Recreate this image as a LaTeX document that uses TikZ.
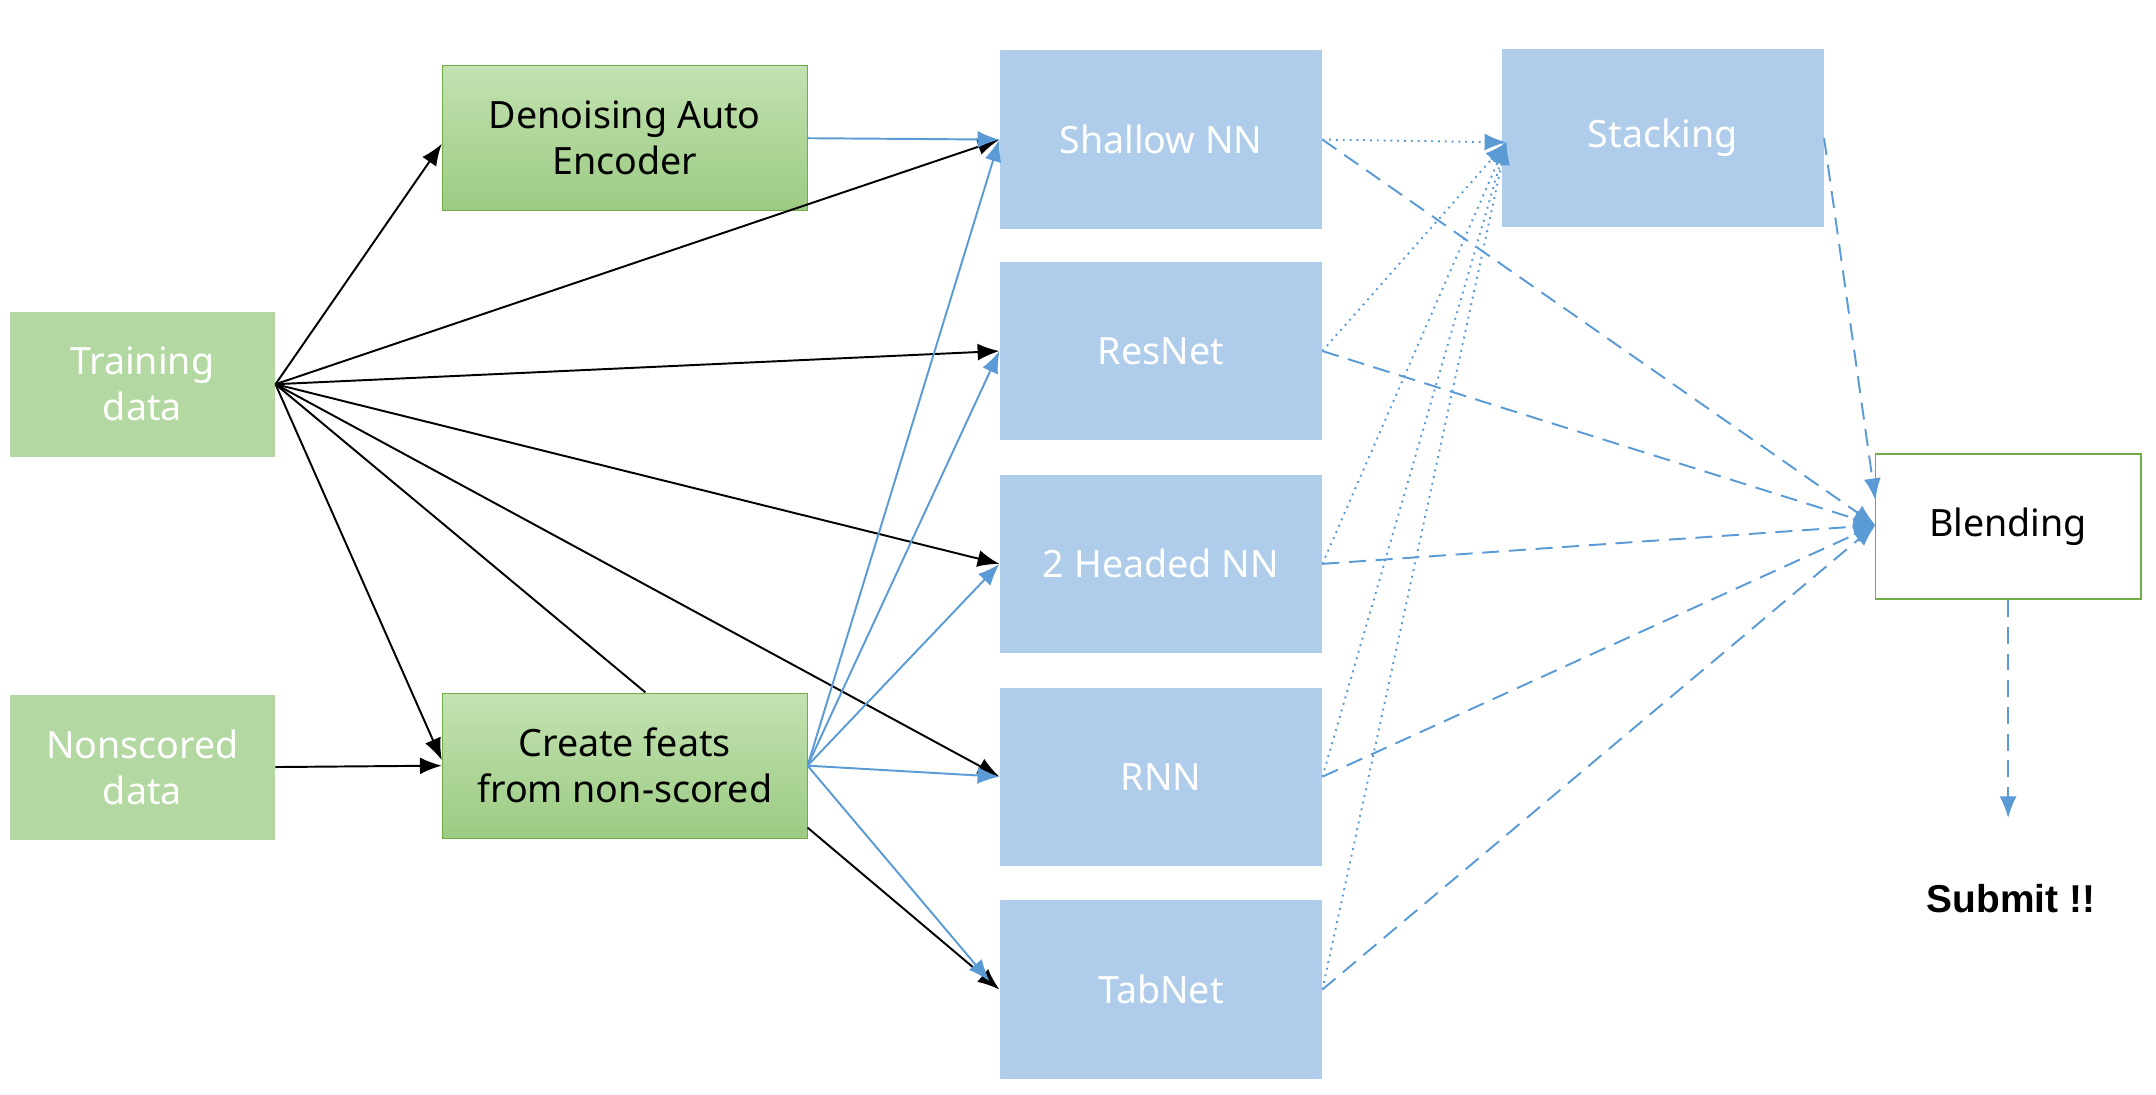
\documentclass[tikz,border=0pt]{standalone}
\usepackage{fontspec}
\setmainfont{Noto Sans}
\newfontfamily\subfont{Liberation Sans}
\usetikzlibrary{arrows.meta}
\definecolor{boxblue}{HTML}{AFCDEA}
\definecolor{lineblue}{HTML}{5B9BD5}
\definecolor{boxgreen}{HTML}{B4D8A2}
\definecolor{gtop}{HTML}{C3E2B1}
\definecolor{gbot}{HTML}{9CCB83}
\definecolor{gborder}{HTML}{70AD47}
\tikzset{
    model/.style={fill=boxblue, text=white, minimum width=4.66cm, minimum height=2.58cm, font=\fontsize{15.5}{19}\selectfont},
    src/.style={fill=boxgreen, text=white, minimum width=3.84cm, minimum height=2.1cm, align=center, font=\fontsize{15.5}{19}\selectfont},
    proc/.style={draw=gborder, top color=gtop, bottom color=gbot, text=black, minimum width=5.28cm, minimum height=2.1cm, align=center, font=\fontsize{15.5}{19}\selectfont},
    blk/.style={-{Latex[length=9pt,width=7pt]}, thick, black},
    blu/.style={-{Latex[length=9pt,width=7pt]}, thick, lineblue},
    dot/.style={blu, dotted},
    dsh/.style={blu, dash pattern=on 7pt off 4pt}
}
\begin{document}
\begin{tikzpicture}[x=0.02cm, y=-0.02cm]
    \useasboundingbox (0,0) rectangle (1560,791.6);

    \node[src] (train) at (103,278) {Training\\data};
    \node[src] (nons) at (103,555) {Nonscored\\data};
    \node[proc] (dae) at (452,100) {Denoising Auto\\Encoder};
    \node[proc] (feat) at (452,554) {Create feats\\from non-scored};

    \node[model] (shallow) at (840,101) {Shallow NN};
    \node[model] (resnet) at (840,254) {ResNet};
    \node[model] (twohead) at (840,408) {2 Headed NN};
    \node[model] (rnn) at (840,562) {RNN};
    \node[model] (tabnet) at (840,716) {TabNet};

    \node[model] (stack) at (1203,100) {Stacking};
    \node[draw=gborder, fill=white, thick, minimum width=3.84cm, minimum height=2.1cm, font=\fontsize{15.5}{19}\selectfont] (blend) at (1453,381) {Blending};
    \node[font=\subfont\fontsize{16}{19}\selectfont\bfseries] (submit) at (1455,650) {Submit !!};
    \coordinate (subtop) at (1453,592);

    % training data inputs
    \draw[blk] (train.east) -- (dae.west |- 0,104);
    \draw[blk] (train.east) -- (shallow.west);
    \draw[blk] (train.east) -- (resnet.west);
    \draw[blk] (train.east) -- (twohead.west);
    \draw[blk] (train.east) -- (rnn.west);
    \draw[thick] (train.east) -- (467,501);
    \draw[blk] (train.east) -- (feat.west |- 0,550);
    \draw[blk] (nons.east) -- (feat.west);
    \draw[blk] (feat.south east) ++(0,-8) -- (tabnet.west);

    % features to models
    \draw[blu] (dae.east) -- (shallow.west);
    \foreach \m in {shallow,resnet,twohead,rnn}
        \draw[blu] (feat.east) -- (\m.west);
    \draw[blu] (feat.east) -- (716,710);

    % stacking and blending
    \foreach \m in {shallow,resnet,twohead,rnn,tabnet} {
        \draw[dot] (\m.east) -- (1090,103);
        \draw[dsh] (\m.east) -- (1357,380);
    }
    \draw[dsh] (stack.east) -- (1357,362);
    \draw[dsh] (blend.south) -- (subtop);
\end{tikzpicture}
\end{document}
